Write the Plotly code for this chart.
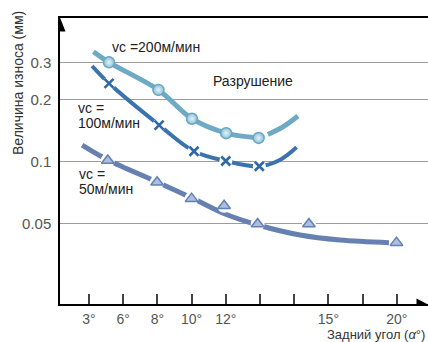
import plotly.graph_objects as go

# ---------------- data ----------------
# x axis: evenly spaced tick positions, labelled with back-angle values
tick_pos = [0, 1, 2, 3, 4, 5, 6, 7, 8, 9]
tick_text = ["3°", "6°", "8°", "10°", "12°", "", "", "15°", "", "20°"]

y_tickvals = [0.05, 0.1, 0.2, 0.3]
y_ticktext = ["0.05", "0.1", "0.2", "0.3"]

# vc = 200 m/min (circles)
v200_x = [0.585, 2.03, 3.01, 4.01, 4.96]
v200_y = [0.302, 0.222, 0.161, 0.137, 0.130]
v200_curve_x = [0.13, 0.585, 2.03, 3.01, 4.01, 4.96]
v200_curve_y = [0.340, 0.302, 0.222, 0.161, 0.137, 0.130]
v200_ext_x = [5.23, 5.67, 6.11]
v200_ext_y = [0.135, 0.147, 0.166]

# vc = 100 m/min (crosses)
v100_x = [0.585, 2.05, 3.07, 4.0, 4.98]
v100_y = [0.239, 0.150, 0.112, 0.1005, 0.0947]
v100_curve_x = [0.09, 0.585, 2.05, 3.07, 4.0, 4.98, 5.58, 6.07]
v100_curve_y = [0.290, 0.239, 0.150, 0.112, 0.1005, 0.0947, 0.1016, 0.117]

# vc = 50 m/min (triangles)
v50_x = [0.55, 1.99, 3.0, 3.95, 4.93, 6.43, 8.99]
v50_y = [0.101, 0.0792, 0.066, 0.061, 0.0497, 0.0497, 0.0404]
v50_curve_x = [-0.2, 0.556, 1.99, 3.01, 3.98, 4.94, 6.17, 7.34, 8.77]
v50_curve_y = [0.120, 0.1016, 0.0795, 0.0665, 0.0556, 0.0492, 0.0440, 0.0416, 0.0404]

# ---------------- layout helpers ----------------
W, H = 428, 342
L, R, T, B = 60, 0, 18, 38
PW, PH = W - L - R, H - T - B


def px(x):
    return (x - L) / PW


def py(y):
    return (H - B - y) / PH


FONT = "Liberation Sans, Arial, Helvetica, sans-serif"

C200 = "#6eaac5"
C100 = "#3a73ad"
C50 = "#6681b1"

fig = go.Figure()

# curves
fig.add_trace(go.Scatter(x=v200_curve_x, y=v200_curve_y, mode="lines",
                         line=dict(color=C200, width=5, shape="spline"),
                         hoverinfo="skip", showlegend=False))
fig.add_trace(go.Scatter(x=v200_ext_x, y=v200_ext_y, mode="lines",
                         line=dict(color=C200, width=5, shape="spline"),
                         hoverinfo="skip", showlegend=False))
fig.add_trace(go.Scatter(x=v100_curve_x, y=v100_curve_y, mode="lines",
                         line=dict(color=C100, width=4, shape="spline"),
                         hoverinfo="skip", showlegend=False))
fig.add_trace(go.Scatter(x=v50_curve_x, y=v50_curve_y, mode="lines",
                         line=dict(color=C50, width=5, shape="spline"),
                         hoverinfo="skip", showlegend=False))

# white halos under crosses and triangles
fig.add_trace(go.Scatter(x=v100_x, y=v100_y, mode="markers",
                         marker=dict(symbol="circle", size=13, color="white"),
                         hoverinfo="skip", showlegend=False))
fig.add_trace(go.Scatter(x=v50_x, y=v50_y, mode="markers",
                         marker=dict(symbol="circle", size=14, color="white"),
                         hoverinfo="skip", showlegend=False))

# markers
fig.add_trace(go.Scatter(x=v200_x, y=v200_y, mode="markers",
                         marker=dict(symbol="circle", size=11, color="#8cc0d8",
                                     gradient=dict(type="radial", color="#e4f2f8"),
                                     line=dict(color="#68a6c2", width=1.5)),
                         showlegend=False))
fig.add_trace(go.Scatter(x=v100_x, y=v100_y, mode="markers",
                         marker=dict(symbol="x-thin", size=9, color="#2e69a6",
                                     line=dict(color="#2e69a6", width=2.6)),
                         showlegend=False))
fig.add_trace(go.Scatter(x=v50_x, y=v50_y, mode="markers",
                         marker=dict(symbol="triangle-up", size=11, color="#aebddf",
                                     line=dict(color="#6281b6", width=1.5)),
                         showlegend=False))

# ---------------- axes ----------------
fig.update_xaxes(range=[-0.848, 9.912], tickmode="array", tickvals=tick_pos,
                 ticktext=tick_text, ticks="inside", ticklen=10, tickwidth=1.5,
                 tickcolor="#444", showgrid=False, zeroline=False,
                 showline=True, linecolor="black", linewidth=1.5, mirror=True,
                 tickfont=dict(family=FONT, size=14, color="#555"),
                 ticklabelstandoff=1, fixedrange=True)
fig.update_yaxes(type="log", range=[-1.691, -0.305], tickmode="array",
                 tickvals=y_tickvals, ticktext=y_ticktext, ticks="",
                 showgrid=True, gridcolor="#9c9c9c", gridwidth=1.2,
                 zeroline=False, showline=True, linecolor="black", linewidth=1.5,
                 tickfont=dict(family=FONT, size=15, color="#555"),
                 ticklabelstandoff=4, fixedrange=True)

# ---------------- text ----------------
ann = []


def text(s, x, y, size=14, xanchor="left", angle=0, color="#222"):
    ann.append(dict(text=s, x=px(x), y=py(y), xref="paper", yref="paper",
                    xanchor=xanchor, yanchor="middle", showarrow=False,
                    textangle=angle, font=dict(family=FONT, size=size, color=color)))


text("vc =200м/мин", 110, 46.5)
text("Разрушение", 211, 81.5)
text("vc =", 76, 107.5)
text("100м/мин", 76, 123)
text("vc =", 77, 173.5)
text("50м/мин", 77, 189.5)
text("Величина износа (мм)", 18, 83, xanchor="center", angle=-90, color="#333")
text("Задний угол (<i>α</i>°)", 427, 334, size=13, xanchor="right", color="#333")

# arrow heads (y axis top, x axis right)
shapes = [
    dict(type="path", xref="paper", yref="paper", layer="above",
         path=f"M{px(60)},{py(17.5)} L{px(65.5)},{py(31.5)} L{px(60)},{py(31.5)} Z",
         fillcolor="black", line=dict(width=0)),
    dict(type="path", xref="paper", yref="paper", layer="above",
         path=f"M{px(416.5)},{py(298.5)} L{px(428)},{py(304.5)} L{px(416.5)},{py(304.5)} Z",
         fillcolor="black", line=dict(width=0)),
]

fig.update_layout(width=W, height=H, margin=dict(l=L, r=R, t=T, b=B, autoexpand=False),
                  paper_bgcolor="white", plot_bgcolor="white",
                  annotations=ann, shapes=shapes, showlegend=False)

fig.write_html("out.html", config={"displayModeBar": False},
               post_script="document.body.style.margin='0';document.body.style.padding='0';"
                           "document.body.style.overflow='hidden';")
